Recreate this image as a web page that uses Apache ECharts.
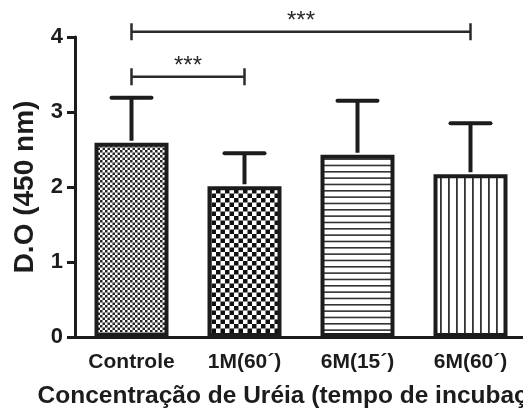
<!DOCTYPE html>
<html>
<head>
<meta charset="utf-8">
<script src="https://cdn.jsdelivr.net/npm/echarts@6/dist/echarts.min.js"></script>
<style>
  html, body { margin: 0; padding: 0; background: #fff; }
  #chart { width: 523px; height: 412px; }
</style>
</head>
<body>
<div id="chart"></div>
<script>
// Optical density (450 nm) per urea treatment, mean and standard deviation
const categories = ['Controle', '1M(60´)', '6M(15´)', '6M(60´)'];
const means = [2.59, 2.01, 2.43, 2.17];
const sds = [0.60, 0.44, 0.72, 0.68];
const yTicks = [0, 1, 2, 3, 4];
// Significance brackets: [from category, to category, height, label]
const brackets = [
  [0, 1, 3.47, '***'],
  [0, 3, 4.07, '***']
];

// Fill textures for each bar
function makeTile(w, h, draw) {
  const c = document.createElement('canvas');
  c.width = w; c.height = h;
  const ctx = c.getContext('2d');
  ctx.fillStyle = '#fff';
  ctx.fillRect(0, 0, w, h);
  draw(ctx);
  return { image: c, repeat: 'repeat' };
}
const fills = [
  // fine checker
  makeTile(10, 10, ctx => {
    ctx.fillStyle = '#262626';
    for (let i = 0; i < 4; i++) for (let j = 0; j < 4; j++)
      if ((i + j) % 2 === 0) ctx.fillRect(i * 2.5, j * 2.5, 2.5, 2.5);
  }),
  // coarse checker
  makeTile(9, 9, ctx => {
    ctx.fillStyle = '#111';
    ctx.fillRect(0, 0, 4.5, 4.5);
    ctx.fillRect(4.5, 4.5, 4.5, 4.5);
  }),
  // horizontal stripes
  makeTile(4, 19, ctx => {
    ctx.fillStyle = '#333';
    [0, 6.33, 12.67].forEach(y => ctx.fillRect(0, y, 4, 1.6));
  }),
  // vertical stripes
  makeTile(8, 4, ctx => {
    ctx.fillStyle = '#333';
    ctx.fillRect(0, 0, 1.8, 4);
  })
];

const ink = '#1c1c1c';
const chart = echarts.init(document.getElementById('chart'), null, { renderer: 'canvas' });

chart.setOption({
  backgroundColor: '#fff',
  animation: false,
  grid: { left: 75, top: 37, height: 300, width: 452, containLabel: false, outerBoundsMode: 'none' },
  xAxis: {
    type: 'category',
    data: categories,
    name: 'Concentração de Uréia (tempo de incubação)',
    nameLocation: 'middle',
    nameGap: 47,
    nameTextStyle: { fontFamily: 'Liberation Sans', fontWeight: 'bold', fontSize: 24.5, color: ink },
    axisLine: { lineStyle: { color: ink, width: 3 } },
    axisTick: { alignWithLabel: true, length: 8, lineStyle: { color: ink, width: 3 } },
    axisLabel: { interval: 0, margin: 15, fontFamily: 'Liberation Sans', fontWeight: 'bold', fontSize: 21, color: ink },
    splitLine: { show: false }
  },
  yAxis: {
    type: 'value',
    min: yTicks[0],
    max: yTicks[yTicks.length - 1],
    interval: 1,
    name: 'D.O (450 nm)',
    nameLocation: 'middle',
    nameGap: 36,
    nameRotate: 90,
    nameTextStyle: { fontFamily: 'Liberation Sans', fontWeight: 'bold', fontSize: 28, color: ink },
    axisLine: { show: true, lineStyle: { color: ink, width: 3 } },
    axisTick: { show: true, length: 8, lineStyle: { color: ink, width: 3 } },
    axisLabel: { margin: 12, fontFamily: 'Liberation Sans', fontWeight: 'bold', fontSize: 22, color: ink },
    splitLine: { show: false }
  },
  series: [
    {
      type: 'bar',
      barWidth: 74,
      data: means.map((v, i) => ({
        value: v,
        itemStyle: { color: fills[i], borderColor: ink, borderWidth: 4 }
      })),
      z: 2
    },
    {
      // error bars (mean + SD)
      type: 'custom',
      z: 3,
      data: means.map((m, i) => [i, m, m + sds[i]]),
      encode: { x: 0, y: [1, 2] },
      renderItem: (params, api) => {
        const base = api.coord([api.value(0), api.value(1)]);
        const top = api.coord([api.value(0), api.value(2)]);
        const half = 20;
        const style = { stroke: ink, lineWidth: 4 };
        return {
          type: 'group',
          children: [
            { type: 'line', shape: { x1: base[0], y1: base[1] - 2, x2: top[0], y2: top[1] }, style },
            { type: 'line', shape: { x1: top[0] - half, y1: top[1], x2: top[0] + half, y2: top[1] }, style: { stroke: ink, lineWidth: 4, lineCap: 'round' } }
          ]
        };
      }
    },
    {
      // significance brackets
      type: 'custom',
      z: 4,
      clip: false,
      data: brackets,
      encode: { x: [0, 1], y: 2 },
      renderItem: (params, api) => {
        const a = api.coord([api.value(0), api.value(2)]);
        const b = api.coord([api.value(1), api.value(2)]);
        const y = a[1];
        const t = 8.5;
        const style = { stroke: '#2a2a2a', lineWidth: 2.5 };
        return {
          type: 'group',
          children: [
            { type: 'line', shape: { x1: a[0], y1: y, x2: b[0], y2: y }, style },
            { type: 'line', shape: { x1: a[0], y1: y - t, x2: a[0], y2: y + t }, style },
            { type: 'line', shape: { x1: b[0], y1: y - t, x2: b[0], y2: y + t }, style },
            {
              type: 'text',
              x: (a[0] + b[0]) / 2,
              y: y - 10,
              style: {
                text: brackets[params.dataIndex][3],
                fontFamily: 'Liberation Sans',
                fontSize: 24,
                fill: '#2a2a2a',
                align: 'center',
                verticalAlign: 'middle'
              }
            }
          ]
        };
      }
    }
  ]
});
</script>
</body>
</html>
